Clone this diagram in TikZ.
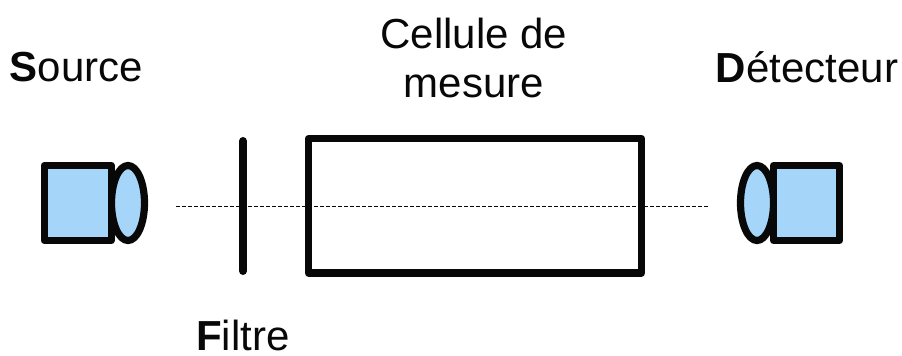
\documentclass[tikz,border=0pt]{standalone}
\usepackage{fontspec}
\setmainfont{Liberation Sans}
\usetikzlibrary{shapes.geometric}
\definecolor{fillblue}{RGB}{165,214,250}
\definecolor{ink}{RGB}{8,8,8}
\tikzset{
  px/.style={x=0.75pt,y=-0.75pt},
  part/.style={draw=ink,line width=5.4pt,fill=fillblue,inner sep=0pt,outer sep=0pt,line join=round},
  lens/.style={part,ellipse},
  cell/.style={draw=ink,line width=5.4pt,fill=white,inner sep=0pt,outer sep=0pt,line join=round},
  label/.style={font=\fontsize{31.5pt}{37pt}\selectfont,text=ink,align=center,inner sep=0pt},
}
\begin{document}
\begin{tikzpicture}[px]
\useasboundingbox (0,0) rectangle (902,356);
\fill[white] (0,0) rectangle (902,356);
\node[cell,minimum width=333*0.75pt,minimum height=134.5*0.75pt] (cellule) at (475,205.8) {};
\node[lens,minimum width=33*0.75pt,minimum height=75*0.75pt] (lensS) at (128,203) {};
\node[part,minimum width=67*0.75pt,minimum height=75*0.75pt] (boxS) at (77.7,203) {};
\node[lens,minimum width=33*0.75pt,minimum height=75*0.75pt] (lensD) at (757,203) {};
\node[part,minimum width=66*0.75pt,minimum height=75*0.75pt] (boxD) at (806.5,203) {};
\coordinate (ftop) at (243,141);
\coordinate (fbot) at (243,271);
\draw[draw=ink,line width=6pt,line cap=round] (ftop) -- (fbot);
\coordinate (rayS) at (176,206.8);
\coordinate (rayD) at (708,206.8);
\draw[draw=ink,line width=0.8pt,dash pattern=on 3pt off 1.5pt] (rayS) -- (rayD);
\node[label] (source) at (76.5,67.5) {\textbf{S}ource};
\node[label] (filtre) at (243,335) {\textbf{F}iltre};
\node[label] (cellabel) at (474,58) {Cellule de\\mesure};
\node[label] (detect) at (807,67.5) {\textbf{D}étecteur};
\end{tikzpicture}
\end{document}
